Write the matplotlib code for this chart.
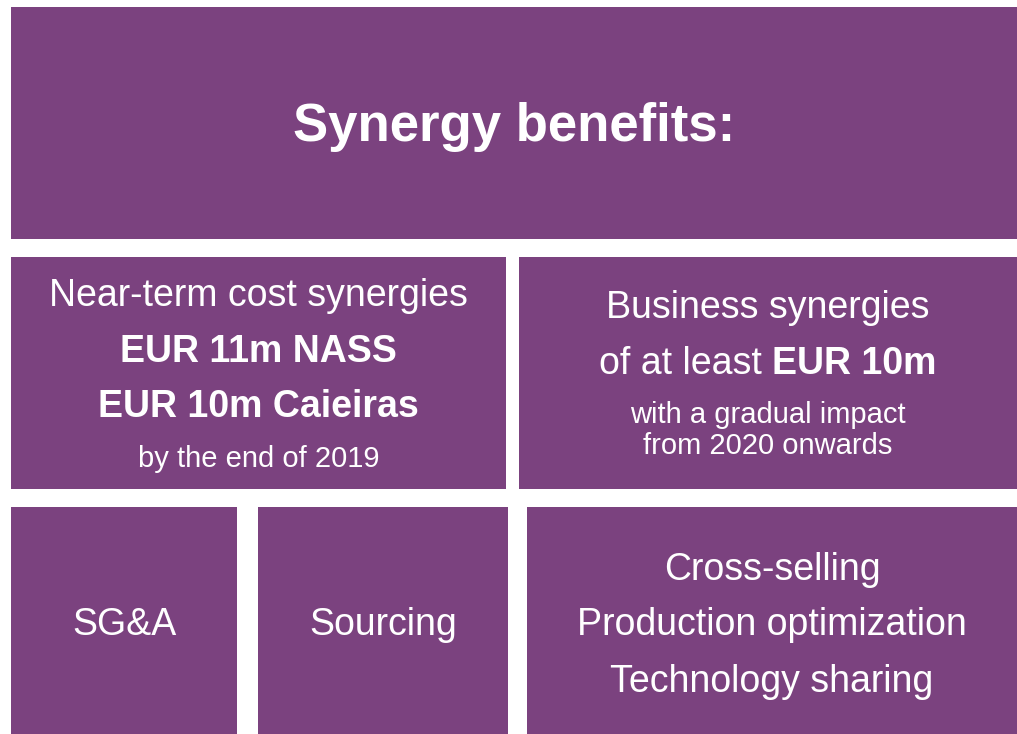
import matplotlib.pyplot as plt
from matplotlib.patches import Rectangle

# box labels
title = 'Synergy benefits:'
cost_lines = ['Near-term cost synergies', 'EUR 11m NASS', 'EUR 10m Caieiras', 'by the end of 2019']
business_lead = 'of at least '
business_amount = 'EUR 10m'
business_lines = ['Business synergies', 'with a gradual impact', 'from 2020 onwards']
bottom_labels = ['SG&A', 'Sourcing']
bottom_list = ['Cross-selling', 'Production optimization', 'Technology sharing']

PURPLE = '#7B427F'
W, H = 1017, 734
BIG, SMALL = 27, 21

plt.rcParams['font.family'] = ['Liberation Sans', 'DejaVu Sans']

fig = plt.figure(figsize=(W / 100, H / 100), dpi=100)
ax = fig.add_axes([0, 0, 1, 1])
ax.set_xlim(0, W)
ax.set_ylim(H, 0)
ax.axis('off')


def box(x0, y0, x1, y1):
    ax.add_patch(Rectangle((x0, y0), x1 - x0, y1 - y0, color=PURPLE, lw=0))
    return (x0 + x1) / 2


# boxes (pixel layout)
cx_top = box(11, 7, 1017, 239)
cx_cost = box(11, 257, 506, 489)
cx_bus = box(519, 257, 1017, 489)
cx_sga = box(11, 507, 237, 734)
cx_src = box(258, 507, 508, 734)
cx_list = box(527, 507, 1017, 734)

txt = dict(color='white', ha='center', va='center_baseline')

ax.text(cx_top, 122, title, fontsize=38, fontweight='bold', **txt)

# cost synergies box
ax.text(cx_cost, 292, cost_lines[0], fontsize=BIG, **txt)
ax.text(cx_cost, 348, cost_lines[1], fontsize=BIG, fontweight='bold', **txt)
ax.text(cx_cost, 403, cost_lines[2], fontsize=BIG, fontweight='bold', **txt)
ax.text(cx_cost, 456, cost_lines[3], fontsize=SMALL, **txt)

# business synergies box
ax.text(cx_bus, 304, business_lines[0], fontsize=BIG, **txt)
t1 = ax.text(0, 360, business_lead, fontsize=BIG, color='white', ha='left', va='center_baseline')
t2 = ax.text(0, 360, business_amount, fontsize=BIG, fontweight='bold', color='white',
             ha='left', va='center_baseline')
r = fig.canvas.get_renderer()
w1 = t1.get_window_extent(r).width
w2 = t2.get_window_extent(r).width
start = cx_bus - (w1 + w2) / 2
t1.set_x(start)
t2.set_x(start + w1)
ax.text(cx_bus, 412, business_lines[1], fontsize=SMALL, **txt)
ax.text(cx_bus, 443, business_lines[2], fontsize=SMALL, **txt)

# bottom row
ax.text(cx_sga, 621, bottom_labels[0], fontsize=BIG, **txt)
ax.text(cx_src, 621, bottom_labels[1], fontsize=BIG, **txt)
for y, label in zip([566, 621, 678], bottom_list):
    ax.text(cx_list, y, label, fontsize=BIG, **txt)

fig.savefig('out.png', dpi=100)
